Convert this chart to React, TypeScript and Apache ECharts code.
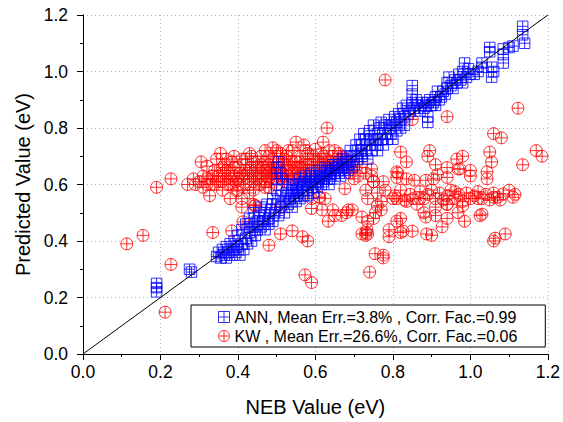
import React, { useEffect, useRef } from "react";
import * as echarts from "echarts";

const annName = "ANN, Mean Err.=3.8% , Corr. Fac.=0.99";
const kwName = "KW , Mean Err.=26.6%, Corr. Fac.=0.06";

const axisMin = 0;
const axisMax = 1.2;
const axisStep = 0.2;

const diagonal = [[0, 0], [1.2, 1.2]];

const annPoints = [
  [0.19, 0.25], [0.19, 0.235], [0.19, 0.22], [0.275, 0.3], [0.28, 0.29],
  [0.345, 0.345], [0.35, 0.36], [0.355, 0.34], [0.36, 0.37], [0.365, 0.35], [0.37, 0.38], [0.37, 0.34],
  [0.375, 0.36], [0.38, 0.39], [0.385, 0.35], [0.39, 0.37], [0.39, 0.4], [0.395, 0.36], [0.4, 0.38],
  [0.4, 0.42], [0.405, 0.35], [0.41, 0.39], [0.41, 0.44], [0.415, 0.37], [0.42, 0.41], [0.42, 0.46],
  [0.425, 0.39], [0.43, 0.43], [0.43, 0.48], [0.435, 0.4], [0.44, 0.45], [0.44, 0.5], [0.445, 0.42],
  [0.45, 0.47], [0.45, 0.44], [0.455, 0.49], [0.46, 0.45], [0.46, 0.52], [0.465, 0.47], [0.47, 0.5],
  [0.47, 0.44], [0.475, 0.53], [0.48, 0.48], [0.48, 0.46], [0.485, 0.51], [0.49, 0.55], [0.49, 0.47],
  [0.495, 0.5], [0.5, 0.53], [0.5, 0.58], [0.5, 0.62], [0.5, 0.66], [0.505, 0.68], [0.51, 0.64],
  [0.505, 0.49], [0.51, 0.52], [0.51, 0.56], [0.515, 0.62], [0.52, 0.54], [0.52, 0.5], [0.525, 0.57],
  [0.53, 0.53], [0.53, 0.6], [0.535, 0.55], [0.54, 0.52], [0.54, 0.58], [0.545, 0.56], [0.55, 0.54],
  [0.55, 0.6], [0.555, 0.57], [0.56, 0.55], [0.56, 0.62], [0.565, 0.58], [0.57, 0.56], [0.57, 0.6],
  [0.575, 0.63], [0.58, 0.58], [0.58, 0.56], [0.585, 0.61], [0.59, 0.59], [0.59, 0.64], [0.595, 0.57],
  [0.6, 0.61], [0.6, 0.63], [0.605, 0.59], [0.61, 0.62], [0.61, 0.65], [0.615, 0.6], [0.62, 0.63],
  [0.62, 0.61], [0.625, 0.66], [0.63, 0.62], [0.63, 0.64], [0.635, 0.6], [0.64, 0.65], [0.64, 0.63],
  [0.645, 0.67], [0.65, 0.64], [0.65, 0.62], [0.655, 0.66], [0.66, 0.65], [0.66, 0.68], [0.665, 0.63],
  [0.67, 0.66], [0.67, 0.69], [0.675, 0.64], [0.68, 0.67], [0.68, 0.7], [0.685, 0.65], [0.69, 0.68],
  [0.69, 0.72], [0.695, 0.66], [0.7, 0.7], [0.7, 0.67], [0.705, 0.74], [0.71, 0.69], [0.71, 0.72],
  [0.715, 0.76], [0.72, 0.7], [0.72, 0.74], [0.725, 0.78], [0.73, 0.72], [0.73, 0.76], [0.735, 0.69],
  [0.74, 0.74], [0.74, 0.79], [0.745, 0.72], [0.75, 0.76], [0.75, 0.81], [0.755, 0.74], [0.76, 0.78],
  [0.76, 0.72], [0.765, 0.8], [0.77, 0.76], [0.77, 0.82], [0.775, 0.74], [0.78, 0.78], [0.78, 0.81],
  [0.785, 0.76], [0.79, 0.8], [0.79, 0.83], [0.795, 0.78], [0.8, 0.81], [0.8, 0.76], [0.805, 0.84],
  [0.81, 0.79], [0.81, 0.82], [0.815, 0.85], [0.82, 0.8], [0.82, 0.83], [0.825, 0.87], [0.83, 0.84],
  [0.83, 0.81], [0.835, 0.88], [0.84, 0.85], [0.845, 0.86], [0.85, 0.89], [0.85, 0.92], [0.85, 0.95],
  [0.855, 0.87], [0.86, 0.9], [0.865, 0.88], [0.87, 0.86], [0.875, 0.89], [0.88, 0.87], [0.885, 0.88],
  [0.89, 0.89], [0.89, 0.84], [0.89, 0.82], [0.895, 0.9], [0.9, 0.88], [0.905, 0.89], [0.91, 0.91],
  [0.91, 0.88], [0.915, 0.93], [0.92, 0.9], [0.925, 0.91], [0.93, 0.93], [0.935, 0.92], [0.94, 0.96],
  [0.94, 0.94], [0.945, 0.98], [0.95, 0.95], [0.955, 0.94], [0.96, 0.97], [0.965, 0.96], [0.97, 0.99],
  [0.975, 0.97], [0.98, 1.0], [0.98, 0.96], [0.985, 1.03], [0.99, 0.98], [0.995, 1.01], [1.0, 0.99],
  [1.01, 0.99], [1.02, 1.0], [1.03, 1.03], [1.03, 1.015], [1.05, 1.085], [1.05, 1.07], [1.055, 1.015],
  [1.055, 0.98], [1.06, 1.0], [1.085, 1.08], [1.085, 1.06], [1.085, 1.03], [1.1, 1.085], [1.11, 1.09],
  [1.135, 1.16], [1.135, 1.13], [1.14, 1.1],
  [0.54, 0.6], [0.56, 0.59], [0.58, 0.6], [0.6, 0.6], [0.62, 0.62], [0.64, 0.64], [0.66, 0.66],
  [0.57, 0.61], [0.59, 0.62], [0.61, 0.63], [0.63, 0.65], [0.65, 0.67], [0.68, 0.68], [0.53, 0.56],
  [0.55, 0.58], [0.47, 0.47], [0.45, 0.46], [0.43, 0.45], [0.72, 0.71], [0.74, 0.76], [0.76, 0.76],
];

const kwPoints = [
  // dense left cluster
  [0.27, 0.6], [0.285, 0.62], [0.3, 0.61], [0.305, 0.68], [0.31, 0.59], [0.32, 0.665], [0.32, 0.62],
  [0.33, 0.6], [0.335, 0.63], [0.345, 0.69], [0.35, 0.61], [0.355, 0.71], [0.36, 0.64], [0.36, 0.58],
  [0.365, 0.67], [0.37, 0.69], [0.37, 0.62], [0.375, 0.6], [0.38, 0.65], [0.38, 0.55], [0.385, 0.68],
  [0.39, 0.63], [0.39, 0.7], [0.395, 0.61], [0.4, 0.66], [0.4, 0.58], [0.405, 0.64], [0.41, 0.55],
  [0.41, 0.52], [0.41, 0.69], [0.415, 0.62], [0.42, 0.67], [0.42, 0.6], [0.425, 0.64], [0.43, 0.71],
  [0.43, 0.62], [0.435, 0.66], [0.435, 0.7], [0.44, 0.58], [0.44, 0.53], [0.445, 0.65], [0.445, 0.525],
  [0.45, 0.62], [0.45, 0.68], [0.455, 0.6], [0.46, 0.64], [0.46, 0.7], [0.465, 0.66], [0.47, 0.72],
  [0.47, 0.61], [0.475, 0.63], [0.48, 0.67], [0.48, 0.59], [0.485, 0.65], [0.49, 0.62], [0.49, 0.69],
  [0.495, 0.64], [0.5, 0.72], [0.5, 0.6], [0.505, 0.66], [0.51, 0.63], [0.51, 0.52], [0.515, 0.68],
  [0.52, 0.61], [0.52, 0.65], [0.525, 0.7], [0.53, 0.63], [0.53, 0.67], [0.535, 0.6], [0.54, 0.65],
  [0.54, 0.72], [0.545, 0.62], [0.55, 0.68], [0.55, 0.75], [0.555, 0.64], [0.56, 0.66], [0.56, 0.7],
  [0.565, 0.62], [0.57, 0.67], [0.57, 0.64], [0.575, 0.72], [0.58, 0.65], [0.58, 0.69], [0.585, 0.63],
  [0.59, 0.67], [0.59, 0.55], [0.595, 0.7], [0.6, 0.65], [0.6, 0.725], [0.605, 0.68], [0.61, 0.66],
  [0.61, 0.555], [0.615, 0.71], [0.62, 0.75], [0.62, 0.67], [0.625, 0.69], [0.63, 0.8], [0.63, 0.66],
  [0.635, 0.72], [0.64, 0.68], [0.645, 0.7], [0.65, 0.66], [0.66, 0.71], [0.665, 0.69], [0.67, 0.67],
  [0.676, 0.69], [0.68, 0.66], [0.69, 0.64], [0.7, 0.665], [0.7, 0.62], [0.71, 0.63], [0.72, 0.66],
  [0.73, 0.64], [0.745, 0.655], [0.745, 0.63], [0.75, 0.61], [0.775, 0.61], [0.78, 0.58], [0.813, 0.64],
  [0.42, 0.65], [0.44, 0.63], [0.46, 0.62], [0.48, 0.64], [0.5, 0.65], [0.52, 0.67], [0.54, 0.64],
  [0.45, 0.66], [0.47, 0.68], [0.43, 0.6], [0.39, 0.66], [0.37, 0.65], [0.35, 0.63], [0.33, 0.62],
  [0.56, 0.63], [0.58, 0.62], [0.6, 0.62], [0.62, 0.64], [0.64, 0.65], [0.66, 0.67], [0.68, 0.69],
  [0.5, 0.7], [0.53, 0.72], [0.57, 0.74], [0.49, 0.73], [0.4, 0.6], [0.38, 0.62], [0.34, 0.6],
  [0.36, 0.61], [0.31, 0.63],
  [0.41, 0.63], [0.43, 0.65], [0.45, 0.64], [0.47, 0.65], [0.49, 0.66], [0.51, 0.65], [0.53, 0.65],
  [0.55, 0.66], [0.57, 0.66], [0.59, 0.65], [0.61, 0.68], [0.63, 0.68], [0.42, 0.69], [0.44, 0.68],
  [0.46, 0.67], [0.48, 0.7], [0.52, 0.69], [0.54, 0.68], [0.56, 0.68], [0.58, 0.67], [0.6, 0.69],
  [0.44, 0.61], [0.46, 0.6], [0.48, 0.62], [0.5, 0.63], [0.52, 0.63], [0.54, 0.62], [0.4, 0.62],
  [0.38, 0.6], [0.36, 0.66], [0.34, 0.65], [0.32, 0.6], [0.29, 0.6], [0.47, 0.59], [0.43, 0.57],
  [0.65, 0.72], [0.67, 0.7], [0.62, 0.7], [0.58, 0.71], [0.51, 0.71],
  // below the cluster and far left
  [0.327, 0.56], [0.397, 0.577], [0.335, 0.43], [0.384, 0.436], [0.413, 0.468], [0.443, 0.525],
  [0.51, 0.52], [0.59, 0.515], [0.617, 0.51], [0.645, 0.51], [0.685, 0.51], [0.668, 0.49], [0.65, 0.49],
  [0.633, 0.47], [0.72, 0.485], [0.735, 0.47], [0.755, 0.5], [0.77, 0.51], [0.73, 0.43], [0.73, 0.42],
  [0.82, 0.48], [0.79, 0.415], [0.82, 0.43], [0.51, 0.425], [0.54, 0.436], [0.567, 0.415], [0.58, 0.4],
  [0.48, 0.385], [0.573, 0.28], [0.59, 0.253], [0.72, 0.425], [0.735, 0.425], [0.754, 0.355],
  [0.775, 0.35], [0.775, 0.34], [0.74, 0.29], [0.113, 0.39], [0.155, 0.42], [0.19, 0.59], [0.227, 0.62],
  [0.227, 0.317], [0.212, 0.148], [0.676, 0.585], [0.61, 0.555], [0.625, 0.55], [0.735, 0.55],
  [0.76, 0.57], [0.77, 0.54], [0.8, 0.55], [0.81, 0.55], [0.73, 0.58], [0.75, 0.61], [0.76, 0.525],
  [0.68, 0.5], [0.695, 0.51], [0.733, 0.44], [0.75, 0.48], [0.79, 0.44], [0.81, 0.47],
  // right spread
  [0.78, 0.97], [0.85, 0.83], [0.94, 0.84], [1.123, 0.87], [1.06, 0.78], [1.08, 0.765], [1.17, 0.72],
  [1.185, 0.7], [1.135, 0.67], [1.05, 0.715], [1.055, 0.68], [0.98, 0.7], [0.895, 0.72], [0.89, 0.7],
  [0.82, 0.715], [0.835, 0.68], [0.91, 0.67], [0.94, 0.66], [0.968, 0.655], [1.0, 0.65], [1.0, 0.63],
  [1.043, 0.645], [1.043, 0.62], [0.915, 0.635], [0.94, 0.625], [0.81, 0.645], [0.81, 0.625],
  [0.835, 0.62], [0.855, 0.615], [0.885, 0.615], [0.905, 0.62], [0.965, 0.69], [0.973, 0.655],
  [0.805, 0.56], [0.82, 0.58], [0.83, 0.545], [0.845, 0.565], [0.852, 0.55], [0.862, 0.53], [0.87, 0.575],
  [0.88, 0.55], [0.89, 0.565], [0.9, 0.58], [0.91, 0.55], [0.91, 0.52], [0.92, 0.57], [0.93, 0.545],
  [0.94, 0.56], [0.94, 0.53], [0.95, 0.58], [0.96, 0.55], [0.97, 0.565], [0.98, 0.54], [0.98, 0.525],
  [0.99, 0.57], [1.0, 0.55], [1.01, 0.56], [1.02, 0.575], [1.03, 0.55], [1.04, 0.565], [1.05, 0.545],
  [1.06, 0.57], [1.07, 0.555], [1.077, 0.545], [1.085, 0.567], [1.1, 0.58], [1.11, 0.555],
  [1.115, 0.565], [1.06, 0.555], [1.02, 0.55], [0.96, 0.575], [0.87, 0.55], [0.835, 0.54],
  [0.88, 0.5], [0.885, 0.485], [0.91, 0.49], [0.94, 0.48], [0.968, 0.5], [0.985, 0.47], [1.025, 0.49],
  [1.03, 0.495], [0.94, 0.53], [0.826, 0.435], [0.85, 0.435], [0.887, 0.425], [0.9, 0.42],
  [0.927, 0.45], [1.064, 0.41], [1.09, 0.425], [1.06, 0.4],
];

const squarePlus = "path://M0 0L10 0L10 10L0 10Z M5 0L5 10 M0 5L10 5";
const circlePlus = "path://M0 5A5 5 0 1 1 10 5A5 5 0 1 1 0 5Z M5 0L5 10 M0 5L10 5";

const FONT = 'Arial, "Liberation Sans", sans-serif';

export default function App() {
  const ref = useRef<HTMLDivElement>(null);
  useEffect(() => {
    if (!ref.current) return;
    const chart = echarts.init(ref.current, null, { renderer: "svg" });
    const baseAxis = {
      type: "value" as const,
      min: axisMin,
      max: axisMax,
      interval: axisStep,
    };
    chart.setOption({
      animation: false,
      backgroundColor: "#ffffff",
      textStyle: { fontFamily: FONT },
      grid: { left: 83, right: 15, top: 15, bottom: 66 },
      legend: {
        left: 191,
        top: 305,
        orient: "vertical",
        backgroundColor: "#ffffff",
        borderColor: "#000000",
        borderWidth: 1,
        padding: [4, 28, 3, 27],
        itemGap: 3,
        itemWidth: 11,
        itemHeight: 11,
        textStyle: { fontSize: 16, color: "#000000", fontFamily: FONT },
        data: [
          { name: annName, icon: squarePlus, itemStyle: { color: "rgba(0,0,0,0)", borderColor: "#0000ff", borderWidth: 1 } },
          { name: kwName, icon: circlePlus, itemStyle: { color: "rgba(0,0,0,0)", borderColor: "#ff0000", borderWidth: 1 } },
        ],
      },
      xAxis: [
        {
          ...baseAxis,
          position: "bottom",
          name: "NEB Value (eV)",
          nameLocation: "middle",
          nameGap: 43,
          nameTextStyle: { fontSize: 20, color: "#000000", fontFamily: FONT },
          axisLine: { show: true, lineStyle: { color: "#000000", width: 1 } },
          axisTick: { show: true, inside: false, length: 6, lineStyle: { color: "#000000" } },
          minorTick: { show: true, splitNumber: 2, length: 3, lineStyle: { color: "#000000" } },
          axisLabel: { fontSize: 17.5, color: "#000000", margin: 9, formatter: (v: number) => v.toFixed(1) },
          splitLine: { show: true, lineStyle: { color: "#b4b4b4", type: [1, 3], width: 1 } },
        },
        {
          ...baseAxis,
          position: "top",
          axisLine: { show: true, lineStyle: { color: "#000000", width: 1 } },
          axisTick: { show: true, inside: true, length: 6, lineStyle: { color: "#000000" } },
          minorTick: { show: true, splitNumber: 2, length: 3, lineStyle: { color: "#000000" } },
          axisLabel: { show: false },
          splitLine: { show: false },
        },
      ],
      yAxis: [
        {
          ...baseAxis,
          position: "left",
          name: "Predicted Value (eV)",
          nameLocation: "middle",
          nameGap: 50,
          nameTextStyle: { fontSize: 20, color: "#000000", fontFamily: FONT },
          axisLine: { show: true, lineStyle: { color: "#000000", width: 1 } },
          axisTick: { show: true, inside: false, length: 6, lineStyle: { color: "#000000" } },
          minorTick: { show: true, splitNumber: 2, length: 3, lineStyle: { color: "#000000" } },
          axisLabel: { fontSize: 17.5, color: "#000000", margin: 15, formatter: (v: number) => v.toFixed(1) },
          splitLine: { show: true, lineStyle: { color: "#b4b4b4", type: [1, 3], width: 1 } },
        },
        {
          ...baseAxis,
          position: "right",
          axisLine: { show: true, lineStyle: { color: "#000000", width: 1 } },
          axisTick: { show: true, inside: true, length: 6, lineStyle: { color: "#000000" } },
          minorTick: { show: true, splitNumber: 2, length: 3, lineStyle: { color: "#000000" } },
          axisLabel: { show: false },
          splitLine: { show: false },
        },
      ],
      series: [
        {
          name: kwName,
          type: "scatter",
          xAxisIndex: 0,
          yAxisIndex: 0,
          symbol: circlePlus,
          symbolSize: 12,
          itemStyle: { color: "rgba(0,0,0,0)", borderColor: "#ff0000", borderWidth: 1 },
          data: kwPoints,
        },
        {
          name: annName,
          type: "scatter",
          xAxisIndex: 0,
          yAxisIndex: 0,
          symbol: squarePlus,
          symbolSize: 10.5,
          itemStyle: { color: "rgba(0,0,0,0)", borderColor: "#0000ff", borderWidth: 1 },
          data: annPoints,
        },
        {
          name: "diagonal",
          type: "line",
          xAxisIndex: 0,
          yAxisIndex: 0,
          data: diagonal,
          symbol: "none",
          silent: true,
          lineStyle: { color: "#000000", width: 1 },
          z: 3,
        },
      ],
    });
    return () => chart.dispose();
  }, []);
  return <div ref={ref} style={{ width: 563, height: 422, position: "absolute", left: 0, top: 0 }} />;
}
